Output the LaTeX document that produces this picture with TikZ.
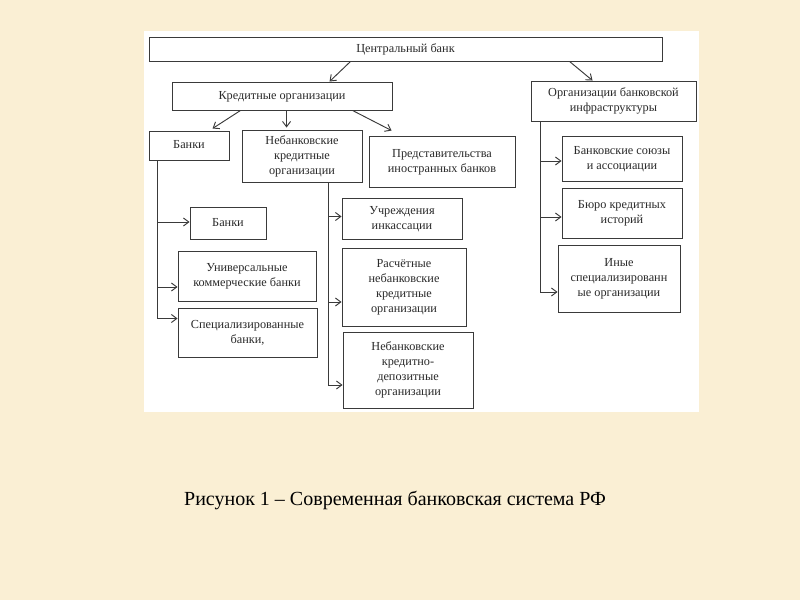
\documentclass[tikz,border=0pt]{standalone}
\usepackage{fontspec}
\setmainfont{Liberation Serif}
\usetikzlibrary{arrows.meta,calc}
\definecolor{bg}{HTML}{FAEFD4}
\definecolor{lnc}{HTML}{3A3A3A}
\definecolor{tx}{HTML}{2A2A2A}
\tikzset{
 box/.style={draw=lnc, line width=0.7pt, fill=white, align=center, inner sep=0pt, text=tx, font=\rmfamily\fontsize{9.2}{11.25}\selectfont},
 arr/.style={draw=lnc, line width=0.7pt, -{Straight Barb[length=4pt,width=6pt]}},
 caption/.style={text=black, font=\rmfamily\fontsize{15}{18}\selectfont}
}
\newcommand\bx[7][0]{\node[box, minimum width={(#5-#3)*0.75pt}, minimum height={(#6-#4)*0.75pt}] (#2) at ({(#3+#5)/2},{(#4+#6)/2}) {\raisebox{#1pt}{\begin{tabular}{@{}c@{}}#7\end{tabular}}};}
\begin{document}
\begin{tikzpicture}[x=0.75pt,y=-0.75pt]
\fill[bg] (0,0) rectangle (800,600);
\useasboundingbox (0,0) rectangle (800,600);
\fill[white] (144,31) rectangle (699,412);
\bx{cb}{149}{37}{662}{61}{Центральный банк}
\bx{ko}{172}{82}{392}{110}{Кредитные организации}
\bx{obi}{531}{81}{696}{121}{Организации банковской\\инфраструктуры}
\bx{banki}{149}{131}{229}{160}{Банки}
\bx{nko}{242}{130}{362}{182}{Небанковские\\кредитные\\организации}
\bx[4]{pib}{369}{136}{515}{187}{Представительства\\иностранных банков}
\bx{b1}{190}{207}{266}{239}{Банки}
\bx{b2}{178}{251}{316}{301}{Универсальные\\коммерческие банки}
\bx[2]{b3}{178}{308}{317}{357}{Специализированные\\банки,}
\bx{n1}{342}{198}{462}{239}{Учреждения\\инкассации}
\bx{n2}{342}{248}{466}{326}{Расчётные\\небанковские\\кредитные\\организации}
\bx{n3}{343}{332}{473}{408}{Небанковские\\кредитно-\\депозитные\\организации}
\bx{i1}{562}{136}{682}{181}{Банковские союзы\\и ассоциации}
\bx{i2}{562}{188}{682}{238}{Бюро кредитных\\историй}
\bx{i3}{558}{245}{680}{312}{Иные\\специализированн\\ые организации}
% top level arrows
\draw[arr] ($(cb.south west)+(202,0)$) -- ($(ko.north west)+(158,0)$);
\draw[arr] ($(cb.south west)+(421,0)$) -- ($(obi.north west)+(62,0)$);
\draw[arr] ($(ko.south west)+(69,0)$) -- ($(banki.north west)+(64,-2)$);
\draw[arr] ($(ko.south west)+(115,0)$) -- ($(nko.north west)+(45,-2)$);
\draw[arr] ($(ko.south west)+(181,0)$) -- ($(pib.north west)+(23,-5)$);
% banks trunk
\draw[arr] ($(banki.south west)+(9,0)$) |- ($(b1.west)+(0,-1)$);
\draw[arr] ($(banki.south west)+(9,0)$) |- ($(b2.west)+(0,11)$);
\draw[arr] ($(banki.south west)+(9,0)$) |- ($(b3.west)+(0,-14)$);
% nko trunk
\draw[arr] ($(nko.south west)+(87,0)$) |- ($(n1.west)+(0,-2)$);
\draw[arr] ($(nko.south west)+(87,0)$) |- ($(n2.west)+(0,15)$);
\draw[arr] ($(nko.south west)+(87,0)$) |- ($(n3.west)+(0,15)$);
% infrastructure trunk
\draw[arr] ($(obi.south west)+(10,0)$) |- ($(i1.west)+(0,2.5)$);
\draw[arr] ($(obi.south west)+(10,0)$) |- ($(i2.west)+(0,4)$);
\draw[arr] ($(obi.south west)+(10,0)$) |- ($(i3.west)+(0,13.5)$);
\node[caption] (cap) at (395,500) {Рисунок 1 – Современная банковская система РФ};
\end{tikzpicture}
\end{document}
